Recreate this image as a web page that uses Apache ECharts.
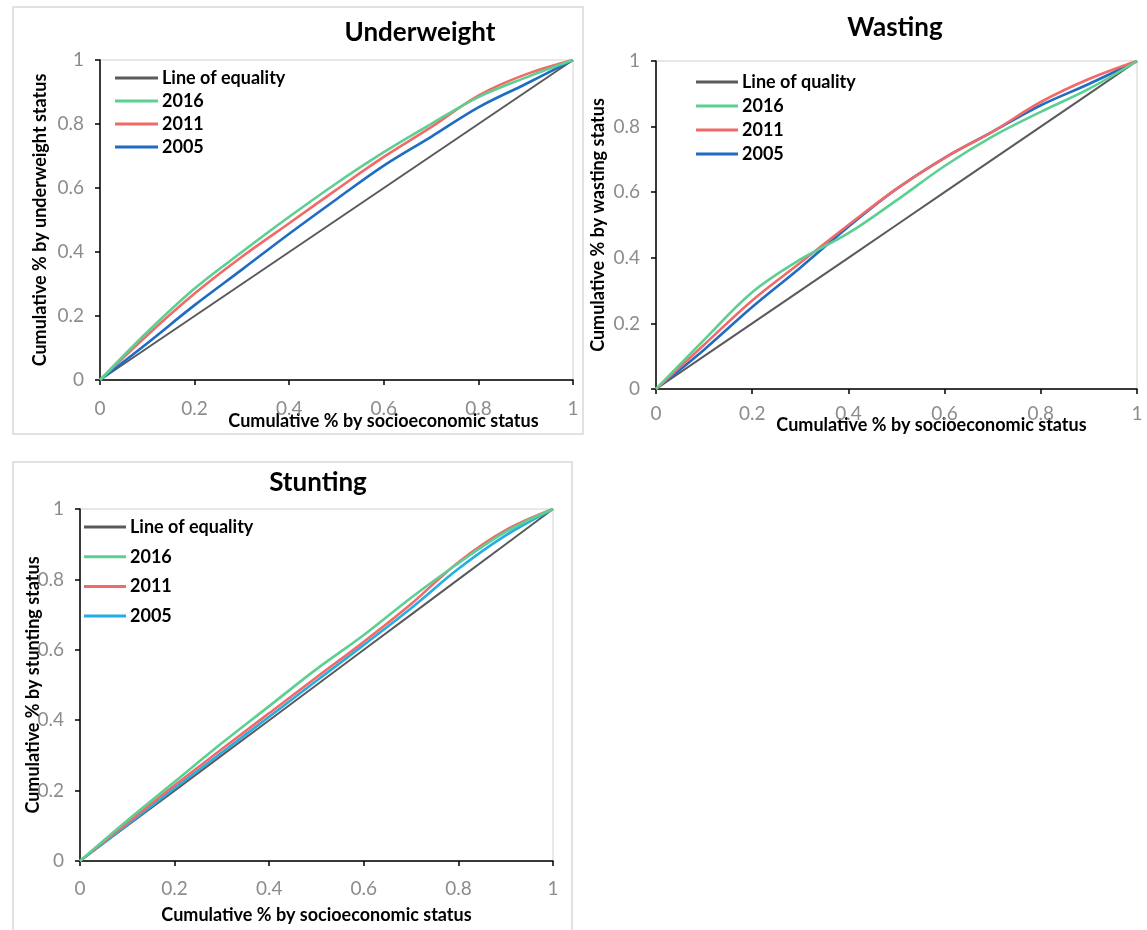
<!DOCTYPE html>
<html lang="en">
<head>
  <meta charset="UTF-8">
  <title>Concentration curves</title>
  <script src="https://cdn.jsdelivr.net/npm/echarts@6/dist/echarts.min.js"></script>
  <style>
    html, body { margin: 0; padding: 0; background: #fff; }
    #main { width: 1147px; height: 930px; }
  </style>
</head>
<body>
<div id="main"></div>
<script>
  // cumulative share of population (x)
  const xs = [0, 0.1, 0.2, 0.3, 0.4, 0.5, 0.6, 0.7, 0.8, 0.9, 1];
  const equality = [0, 0.1, 0.2, 0.3, 0.4, 0.5, 0.6, 0.7, 0.8, 0.9, 1];

  // underweight
  const uw2016 = [0, 0.15, 0.286, 0.40, 0.51, 0.615, 0.712, 0.80, 0.884, 0.945, 1];
  const uw2011 = [0, 0.14, 0.27, 0.385, 0.49, 0.595, 0.697, 0.79, 0.889, 0.955, 1];
  const uw2005 = [0, 0.115, 0.234, 0.345, 0.457, 0.565, 0.67, 0.76, 0.852, 0.925, 1];

  // wasting
  const ws2016 = [0, 0.15, 0.295, 0.395, 0.475, 0.575, 0.68, 0.77, 0.845, 0.915, 1];
  const ws2011 = [0, 0.135, 0.27, 0.385, 0.50, 0.61, 0.705, 0.785, 0.875, 0.945, 1];
  const ws2005 = [0, 0.12, 0.25, 0.37, 0.495, 0.61, 0.705, 0.785, 0.865, 0.93, 1];

  // stunting
  const st2016 = [0, 0.115, 0.225, 0.335, 0.44, 0.545, 0.642, 0.748, 0.846, 0.935, 1];
  const st2011 = [0, 0.108, 0.215, 0.318, 0.42, 0.522, 0.623, 0.73, 0.849, 0.94, 1];
  const st2005 = [0, 0.103, 0.207, 0.308, 0.41, 0.512, 0.614, 0.718, 0.83, 0.925, 1];

  const titles = ['Underweight', 'Wasting', 'Stunting'];
  const yNames = ['Cumulative % by underweight status', 'Cumulative % by wasting status',
    'Cumulative % by stunting status'];
  const xName = 'Cumulative % by socioeconomic status';
  const eqNames = ['Line of equality', 'Line of quality', 'Line of equality'];

  const FONT = 'Lato, "Open Sans", sans-serif';
  const GREY = '#5a5a5a', GREEN = '#5ccf92', RED = '#f26a68';
  const blues = ['#1f6cc4', '#1f6cc4', '#22aee6'];

  function pairs(ys) {
    return xs.map((x, i) => [x, ys[i]]);
  }

  const grids = [
    {left: 100, right: 574, top: 60, bottom: 550},
    {left: 656, right: 10, top: 61, bottom: 541},
    {left: 80, right: 594, top: 509, bottom: 69}
  ];
  const titlePos = [[420, 20], [895, 15], [318, 470]];
  const legendPos = [[115, 69, 5], [696, 73, 6], [84, 518, 11.7]];
  const legendW = [43, 42, 42];
  const xNameGap = [32, 27, 45];
  const xNamePad = [94, 70, 0];
  const xLabelMargin = [19, 15, 18];
  const yNameGap = [51, 49, 38];
  const data = [[uw2016, uw2011, uw2005], [ws2016, ws2011, ws2005], [st2016, st2011, st2005]];

  const chart = echarts.init(document.getElementById('main'));
  const option = {
    backgroundColor: '#fff',
    animation: false,
    title: [], legend: [], grid: [], xAxis: [], yAxis: [], series: [],
    graphic: [
      {type: 'rect', shape: {x: 13, y: 7, width: 570, height: 427},
        style: {fill: 'none', stroke: '#d9d9d9', lineWidth: 1.5}, z: -1},
      {type: 'rect', shape: {x: 13, y: 462, width: 559, height: 480},
        style: {fill: 'none', stroke: '#d9d9d9', lineWidth: 1.5}, z: -1}
    ]
  };

  for (let p = 0; p < 3; p++) {
    option.title.push({
      text: titles[p], left: titlePos[p][0], top: titlePos[p][1], textAlign: 'center', padding: 0,
      textStyle: {fontFamily: FONT, fontSize: 26, fontWeight: 'bold', color: '#000'}
    });
    option.grid.push(Object.assign({
      show: true, borderColor: '#d0d0d0', borderWidth: 1, backgroundColor: 'transparent'
    }, grids[p]));
    option.xAxis.push({
      type: 'value', gridIndex: p, min: 0, max: 1, interval: 0.2,
      name: xName, nameLocation: 'middle', nameGap: xNameGap[p], nameMoveOverlap: false,
      nameTextStyle: {fontFamily: FONT, fontSize: 18, fontWeight: 'bold', color: '#000',
        padding: [0, 0, 0, xNamePad[p]]},
      axisLine: {show: true, lineStyle: {color: '#000', width: 1.5}},
      axisTick: {show: true, length: 5, lineStyle: {color: '#000', width: 1.5}},
      axisLabel: {margin: xLabelMargin[p], fontFamily: FONT, fontSize: 19, color: '#8c8c8c',
        formatter: v => String(+v.toFixed(1))},
      splitLine: {show: false}
    });
    option.yAxis.push({
      type: 'value', gridIndex: p, min: 0, max: 1, interval: 0.2,
      name: yNames[p], nameLocation: 'middle', nameGap: yNameGap[p], nameMoveOverlap: false,
      nameTextStyle: {fontFamily: FONT, fontSize: 18, fontWeight: 'bold', color: '#000'},
      axisLine: {show: true, lineStyle: {color: '#000', width: 1.5}},
      axisTick: {show: true, length: 5, lineStyle: {color: '#000', width: 1.5}},
      axisLabel: {margin: 16, fontFamily: FONT, fontSize: 19, color: '#8c8c8c',
        formatter: v => String(+v.toFixed(1))},
      splitLine: {show: false}
    });

    const names = [eqNames[p], '2016', '2011', '2005'];
    const colors = [GREY, GREEN, RED, blues[p]];
    const vals = [equality, data[p][0], data[p][1], data[p][2]];
    option.legend.push({
      left: legendPos[p][0], top: legendPos[p][1], orient: 'vertical',
      itemGap: legendPos[p][2], itemWidth: legendW[p], itemHeight: 3, icon: 'rect',
      padding: 0, selectedMode: false,
      data: names.map((n, i) => ({name: n, itemStyle: {color: colors[i]}})),
      textStyle: {fontFamily: FONT, fontSize: 18, fontWeight: 'bold', color: '#000', padding: [0, 0, 0, -1]}
    });
    for (let i = 0; i < 4; i++) {
      option.series.push({
        name: names[i], type: 'line', xAxisIndex: p, yAxisIndex: p,
        data: pairs(vals[i]), smooth: i > 0 ? 0.35 : false, symbol: 'none',
        z: i === 0 ? 2 : 3 + (3 - i),
        itemStyle: {color: colors[i]},
        lineStyle: {color: colors[i], width: i === 0 ? 2 : 2.6}
      });
    }
  }

  chart.setOption(option);
</script>
</body>
</html>
